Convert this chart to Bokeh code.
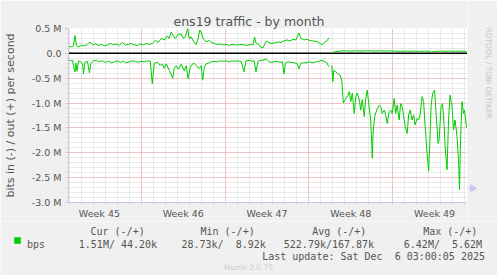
import math
from bokeh.plotting import figure
from bokeh.layouts import row, column
from bokeh.models import Range1d, FixedTicker, Label, Span
from bokeh.embed import file_html
from bokeh.resources import INLINE

nan = float("nan")

# ---------------- data ----------------
# time axis: hours since the left edge of the graph (33 days shown)
week_labels = ["Week 45", "Week 46", "Week 47", "Week 48", "Week 49"]
week_start_hours = [146, 314, 482, 650]      # Monday 00:00 of weeks 46..49

# outbound traffic (+), Mbit/s
out_hours = [0, 6, 10, 13, 16, 20, 26, 32, 38, 43, 48, 54, 60, 66, 72, 78, 84, 90, 96, 102,
             108, 114, 120, 126, 132, 138, 144, 150, 156, 162, 168, 174, 180, 186, 192, 198,
             202, 206, 210, 214, 220, 226, 230, 234, 239, 242, 246, 250, 256, 260, 263, 266,
             270, 276, 282, 286, 292, 298, 304, 310, 316, 322, 328, 334, 340, 346, 352, 358,
             364, 370, 373, 376, 382, 386, 390, 394, 398, 402, 408, 414, 420, 426, 432, 438,
             444, 450, 456, 462, 466, 472, 478, 484, 490, 496, 502, 508, 514, 518, 522,
             525,
             528, 534, 540, 546, 556, 566, 576, 586, 596, 606, 616, 626, 636, 646, 656, 666,
             676, 686, 696, 706, 716, 724, 728, 734, 746, 756, 766, 776, 786, 798]
out_mbps = [0.14, 0.13, 0.15, 0.36, 0.15, 0.13, 0.16, 0.15, 0.18, 0.23, 0.17, 0.19, 0.16, 0.18,
            0.15, 0.17, 0.20, 0.17, 0.19, 0.16, 0.22, 0.17, 0.18, 0.20, 0.17, 0.16, 0.19, 0.17,
            0.20, 0.18, 0.20, 0.26, 0.22, 0.30, 0.27, 0.35, 0.30, 0.43, 0.35, 0.30, 0.38, 0.39,
            0.30, 0.33, 0.50, 0.30, 0.33, 0.25, 0.18, 0.30, 0.47, 0.42, 0.30, 0.23, 0.26, 0.22,
            0.20, 0.18, 0.19, 0.17, 0.18, 0.16, 0.18, 0.17, 0.17, 0.18, 0.17, 0.16, 0.18, 0.17,
            0.33, 0.20, 0.18, 0.12, 0.11, 0.20, 0.25, 0.21, 0.20, 0.21, 0.23, 0.22, 0.25, 0.27,
            0.25, 0.28, 0.27, 0.41, 0.30, 0.27, 0.28, 0.26, 0.25, 0.24, 0.22, 0.17, 0.23, 0.25,
            0.31,
            nan,
            0.01, 0.03, 0.04, 0.05, 0.05, 0.045, 0.05, 0.045, 0.05, 0.05, 0.045, 0.05, 0.045,
            0.05, 0.045, 0.04, 0.045, 0.04, 0.045, 0.04, 0.045, 0.04, 0.025, 0.04, 0.045, 0.04,
            0.045, 0.04, 0.045, 0.04]

# inbound traffic (-), Mbit/s, drawn below zero
in_hours = [0, 4, 8, 11, 13, 15, 17, 20, 24, 28, 30, 33, 38, 42, 45, 50, 56, 62, 68, 74, 80,
            86, 92, 98, 104, 110, 116, 122, 128, 134, 140, 146, 152, 158, 164, 168, 172, 178,
            184, 188, 192, 196, 202, 209, 212, 216, 220, 226, 232, 236, 240, 244, 248, 252,
            258, 263, 266, 269, 272, 276, 280, 286, 292, 298, 304, 310, 316, 322, 328, 334,
            340, 346, 352, 356, 362, 368, 372, 376, 380, 386, 392, 396, 402, 408, 414, 420,
            426, 429, 432, 435, 440, 446, 452, 458, 462, 466, 472, 478, 484, 490, 496, 502,
            506, 512, 518, 522,
            525,
            528, 530, 532, 536, 540, 544, 548, 551, 556, 560, 563, 566, 569, 573, 576, 579,
            583, 586, 589, 593, 596, 599, 603, 606, 608, 609, 611, 614, 618, 623, 626, 629,
            633, 636, 639, 643, 646, 649, 653, 656, 659, 663, 666, 669, 672, 675, 679, 682,
            685, 689, 692, 695, 699, 702, 705, 709, 712, 715, 719, 722, 724, 727, 730, 734,
            737, 741, 743, 747, 750, 753, 755, 759, 762, 765, 769, 772, 775, 779, 782, 784,
            786, 789, 792, 794, 797, 799]
in_mbps = [-0.13, -0.15, -0.14, -0.30, -0.37, -0.20, -0.36, -0.15, -0.17, -0.20, -0.41, -0.18,
           -0.16, -0.39, -0.20, -0.15, -0.14, -0.17, -0.15, -0.18, -0.16, -0.19, -0.17, -0.15,
           -0.18, -0.16, -0.19, -0.17, -0.15, -0.16, -0.18, -0.16, -0.17, -0.15, -0.16, -0.61,
           -0.20, -0.18, -0.24, -0.22, -0.30, -0.21, -0.34, -0.50, -0.30, -0.25, -0.32, -0.22,
           -0.35, -0.25, -0.51, -0.28, -0.22, -0.20, -0.27, -0.30, -0.25, -0.54, -0.30, -0.21,
           -0.20, -0.17, -0.16, -0.17, -0.15, -0.16, -0.15, -0.17, -0.15, -0.16, -0.15, -0.16,
           -0.37, -0.15, -0.14, -0.16, -0.15, -0.37, -0.16, -0.14, -0.13, -0.11, -0.17, -0.18,
           -0.16, -0.17, -0.18, -0.17, -0.41, -0.20, -0.17, -0.18, -0.19, -0.20, -0.31, -0.20,
           -0.19, -0.19, -0.17, -0.19, -0.17, -0.16, -0.14, -0.16, -0.19, -0.27,
           nan,
           -0.24, -0.57, -0.34, -0.37, -0.41, -0.43, -0.54, -1.00, -0.91, -0.85, -0.77, -0.97,
           -0.80, -1.21, -0.87, -0.80, -0.93, -1.14, -0.93, -1.27, -0.91, -0.74, -1.10, -1.34,
           -1.81, -2.11, -1.55, -1.27, -1.14, -1.04, -1.07, -1.21, -1.14, -1.24, -1.41, -1.17,
           -1.14, -1.21, -0.91, -1.21, -1.04, -1.34, -1.01, -1.07, -1.27, -1.47, -1.61, -1.24,
           -1.14, -1.34, -1.24, -1.44, -1.31, -1.34, -1.24, -0.87, -0.97, -1.47, -2.01, -2.37,
           -1.94, -1.07, -0.81, -0.74, -1.21, -1.81, -1.74, -1.07, -1.01, -1.41, -1.87, -2.34,
           -1.34, -0.84, -1.07, -1.54, -1.34, -1.67, -2.14, -2.74, -1.74, -0.97, -1.21, -1.14,
           -1.41, -1.51]

y_ticks = [0.5, 0.0, -0.5, -1.0, -1.5, -2.0, -2.5, -3.0]
y_tick_labels = ["0.5 M", "0.0", "-0.5 M", "-1.0 M", "-1.5 M", "-2.0 M", "-2.5 M", "-3.0 M"]

title_text = "ens19 traffic - by month"
y_title = "bits in (-) / out (+) per second"
series_name = "bps"
legend_headers = ["Cur (-/+)", "Min (-/+)", "Avg (-/+)", "Max (-/+)"]
legend_values = ["1.51M/ 44.20k", "28.73k/  8.92k", "522.79k/167.87k", "6.42M/  5.62M"]
last_update = "Last update: Sat Dec  6 03:00:05 2025"
version_text = "Munin 2.0.75"
side_text = "RRDTOOL / TOBI OETIKER"

# ---------------- styling ----------------
BG = "#F0F0F0"
GREEN = "#00CC00"
TXT = "#555555"
AXIS = "#C8C8F0"
MGRID = "#F29A9A"
GRID = "#D6D6D6"
SANS = "DejaVu Sans"
MONO = "DejaVu Sans Mono"

W, H = 497, 275
FL, FT, FW, FH = 67, 28, 400, 175       # plot area in canvas pixels
MAIN_H = 221                            # main figure height (plot + week labels)
SIDE_W = W - FL - FW                    # strip right of the plot
X0, X1 = 0, 800
Y0, Y1 = -3.0, 0.5

# ---------------- main chart ----------------
p = figure(width=FL + FW, height=MAIN_H, output_backend="svg", toolbar_location=None,
           x_range=Range1d(X0, X1), y_range=Range1d(Y0, Y1),
           min_border_left=FL, min_border_right=0,
           min_border_top=FT, min_border_bottom=MAIN_H - FT - FH,
           background_fill_color="#FFFFFF", border_fill_color=BG,
           outline_line_color=None)

p.title.text = title_text
p.title.align = "left"
p.title.offset = 105
p.title.standoff = 0
p.title.text_font = SANS
p.title.text_font_size = "12.5px"
p.title.text_font_style = "normal"
p.title.text_color = TXT

# grids
day_hours = list(range(week_start_hours[0] % 24, X1 + 1, 24))
p.xgrid.ticker = FixedTicker(ticks=week_start_hours, minor_ticks=day_hours)
minor_y = [round(Y0 + 0.1 * k, 2) for k in range(int(round((Y1 - Y0) / 0.1)) + 1)]
p.ygrid.ticker = FixedTicker(ticks=y_ticks, minor_ticks=minor_y)
for g in (p.xgrid, p.ygrid):
    g.grid_line_color = MGRID
    g.grid_line_dash = "1 1"
    g.grid_line_width = 1
    g.minor_grid_line_color = GRID
    g.minor_grid_line_dash = "1 1"
    g.minor_grid_line_width = 1

# x axis: week labels centred in each week
week_mids = [week_start_hours[0] - 84] + [w + 84 for w in week_start_hours]
xa = p.xaxis[0]
xa.ticker = FixedTicker(ticks=week_mids, minor_ticks=day_hours)
xa.major_label_overrides = {m: lab for m, lab in zip(week_mids, week_labels)}
xa.major_tick_line_color = None
xa.major_tick_in = 0
xa.major_tick_out = 0
xa.minor_tick_in = 0
xa.minor_tick_out = 2
xa.minor_tick_line_color = GRID
xa.axis_line_color = AXIS
xa.major_label_standoff = 3
xa.major_label_text_font = SANS
xa.major_label_text_font_size = "9.5px"
xa.major_label_text_color = TXT

ya = p.yaxis[0]
ya.ticker = FixedTicker(ticks=y_ticks, minor_ticks=minor_y)
ya.major_label_overrides = {t: lab for t, lab in zip(y_ticks, y_tick_labels)}
ya.major_tick_in = 0
ya.major_tick_out = 3
ya.major_tick_line_color = MGRID
ya.minor_tick_in = 0
ya.minor_tick_out = 2
ya.minor_tick_line_color = GRID
ya.axis_line_color = AXIS
ya.major_label_standoff = 4
ya.major_label_text_font = SANS
ya.major_label_text_font_size = "9.5px"
ya.major_label_text_color = TXT
ya.axis_label = y_title
ya.axis_label_text_font = SANS
ya.axis_label_text_font_size = "11px"
ya.axis_label_text_font_style = "normal"
ya.axis_label_text_color = TXT
ya.axis_label_standoff = 12

# zero line
p.add_layout(Span(location=0, dimension="width", line_color="#000000", line_width=1.5,
                  level="underlay"))

# series
p.line(out_hours, out_mbps, line_color=GREEN, line_width=1)
p.line(in_hours, in_mbps, line_color=GREEN, line_width=1)


def strip(width, height, x_lo, y_top):
    """Plain figure whose data units are canvas pixels (y grows downward)."""
    f = figure(width=width, height=height, output_backend="svg", toolbar_location=None,
               x_range=Range1d(x_lo, x_lo + width), y_range=Range1d(y_top + height, y_top),
               min_border=0, x_axis_type=None, y_axis_type=None,
               background_fill_color=BG, border_fill_color=BG, outline_line_color=None)
    return f


def keep_spaces(s):
    # SVG collapses runs of spaces; keep the monospace column layout
    return s.replace("  ", " \u00a0")


def txt(f, text, px, py, size, font=MONO, color=TXT, align="left", baseline="alphabetic",
        angle=0.0):
    f.add_layout(Label(x=px, y=py, text=keep_spaces(text), text_font=font,
                       text_font_size=size, text_color=color, text_align=align,
                       text_baseline=baseline, angle=angle))


# ---------------- right strip: x-axis arrow + credit ----------------
side = strip(SIDE_W, MAIN_H, FL + FW, 0)
side.segment(x0=[FL + FW], y0=[FT + FH], x1=[FL + FW + 4], y1=[FT + FH], line_color=AXIS)
side.scatter(x=[FL + FW + 5], y=[FT + FH], marker="triangle", angle=-math.pi / 2, size=7,
             fill_color=AXIS, line_color=AXIS)
txt(side, side_text, 488, 53.5, "7.5px", font=SANS, color="#C4C4C4", align="center",
    baseline="middle", angle=-math.pi / 2)

# ---------------- legend strip ----------------
leg = strip(W, H - MAIN_H, 0, MAIN_H)
leg.quad(left=[13.7], right=[20.3], top=[236.7], bottom=[243.3], fill_color=GREEN,
         line_color=None)
txt(leg, series_name, 26.5, 243.5, "10px")
header_x = [90, 200, 311.7, 422.7]
value_x = [78.3, 181, 283.3, 403.3]
for h, x in zip(legend_headers, header_x):
    txt(leg, h, x, 230.5, "10px")
for v, x in zip(legend_values, value_x):
    txt(leg, v, x, 243.5, "10px")
txt(leg, last_update, 261.7, 255.5, "10px")
txt(leg, version_text, 248, 266.5, "7.5px", font=SANS, color="#CCCCCC", align="center")

layout = column(row(p, side), leg)
open("out.html", "w").write(file_html(layout, INLINE))
